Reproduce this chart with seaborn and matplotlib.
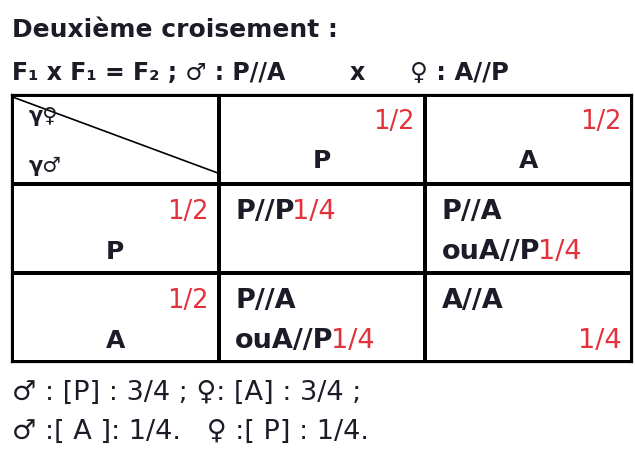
import numpy as np
import matplotlib
matplotlib.use("Agg")
import matplotlib.pyplot as plt
import seaborn as sns
from matplotlib.colors import ListedColormap

# Punnett square data
female_gametes = ["P", "A"]
male_gametes = ["P", "A"]
gamete_freq = ["1/2", "1/2"]
offspring_lines = [
    [["P//P"], ["P//A", "ouA//P"]],
    [["P//A", "ouA//P"], ["A//A", ""]],
]
offspring_freq = [["1/4", "1/4"], ["1/4", "1/4"]]

title = "Deuxième croisement :"
cross_left = "F\u2081 x F\u2081 = F\u2082 ; \u2642 : P//A"
cross_mid = "x"
cross_right = "\u2640 : A//P"
result_1 = "\u2642 : [P] : 3/4 ; \u2640: [A] : 3/4 ;"
result_2 = "\u2642 :[ A ]: 1/4.   \u2640 :[ P] : 1/4."

RED = "#e2323c"
INK = "#1c1c28"
FAM = ["DejaVu Sans"]

sns.set_theme(style="white")
plt.rcParams["font.family"] = FAM

fig = plt.figure(figsize=(6.35, 4.5), dpi=100)
fig.patch.set_facecolor("white")
ax = fig.add_axes([12 / 635, 1 - 362 / 450, 620 / 635, 267 / 450])

grid = np.zeros((3, 3))
sns.heatmap(grid, cmap=ListedColormap(["white"]), cbar=False,
            linewidths=1.6, linecolor="black", ax=ax,
            xticklabels=False, yticklabels=False)
for sp in ax.spines.values():
    sp.set_visible(True)
    sp.set_color("black")
    sp.set_linewidth(1.6)

BIG = 19.5


def two_tone(x, y, black, red):
    t = ax.text(x, y, black, fontsize=BIG, fontweight="bold", color=INK,
                ha="left", va="center")
    ax.annotate(red, xy=(1, 0.5), xycoords=t, xytext=(-2, 0),
                textcoords="offset points", fontsize=BIG, color=RED,
                ha="left", va="center")


# corner cell
ax.plot([0, 1], [0.02, 0.88], color="black", lw=1.2)
ax.text(0.08, 0.24, "\u03b3\u2640", fontsize=15, fontweight="bold", color=INK,
        ha="left", va="center")
ax.text(0.08, 0.8, "\u03b3\u2642", fontsize=15, fontweight="bold", color=INK,
        ha="left", va="center")

# female gametes (columns)
for j, g in enumerate(female_gametes):
    ax.text(j + 1.95, 0.3, gamete_freq[j], fontsize=18.5, color=RED,
            ha="right", va="center")
    ax.text(j + 1.5, 0.74, g, fontsize=18, fontweight="bold", color=INK,
            ha="center", va="center")

# male gametes (rows)
for i, g in enumerate(male_gametes):
    ax.text(0.95, i + 1.31, gamete_freq[i], fontsize=18.5, color=RED,
            ha="right", va="center")
    ax.text(0.5, i + 1.76, g, fontsize=18, fontweight="bold", color=INK,
            ha="center", va="center")

# offspring cells
for i in range(2):
    for j in range(2):
        lines = offspring_lines[i][j]
        x0 = j + 1.08
        for k, line in enumerate(lines):
            y = i + 1.31 + 0.45 * k
            last = k == len(lines) - 1
            if last and line == "":
                ax.text(j + 1.95, y, offspring_freq[i][j], fontsize=BIG,
                        color=RED, ha="right", va="center")
            elif last:
                two_tone(x0, y, line, offspring_freq[i][j])
            else:
                ax.text(x0, y, line, fontsize=BIG, fontweight="bold",
                        color=INK, ha="left", va="center")

# header and footer text
fig.text(12 / 635, 1 - 30 / 450, title, fontsize=18, fontweight="bold",
         color=INK, ha="left", va="center")
fig.text(12 / 635, 1 - 73 / 450, cross_left, fontsize=17, fontweight="bold",
         color=INK, ha="left", va="center")
fig.text(350 / 635, 1 - 73 / 450, cross_mid, fontsize=17, fontweight="bold",
         color=INK, ha="left", va="center")
fig.text(410 / 635, 1 - 73 / 450, cross_right, fontsize=17.5,
         fontweight="bold", color=INK, ha="left", va="center")
fig.text(12 / 635, 1 - 393 / 450, result_1, fontsize=19.5, color=INK,
         ha="left", va="center")
fig.text(12 / 635, 1 - 432 / 450, result_2, fontsize=19.5, color=INK,
         ha="left", va="center")

fig.savefig("out.png", dpi=100, facecolor="white")
